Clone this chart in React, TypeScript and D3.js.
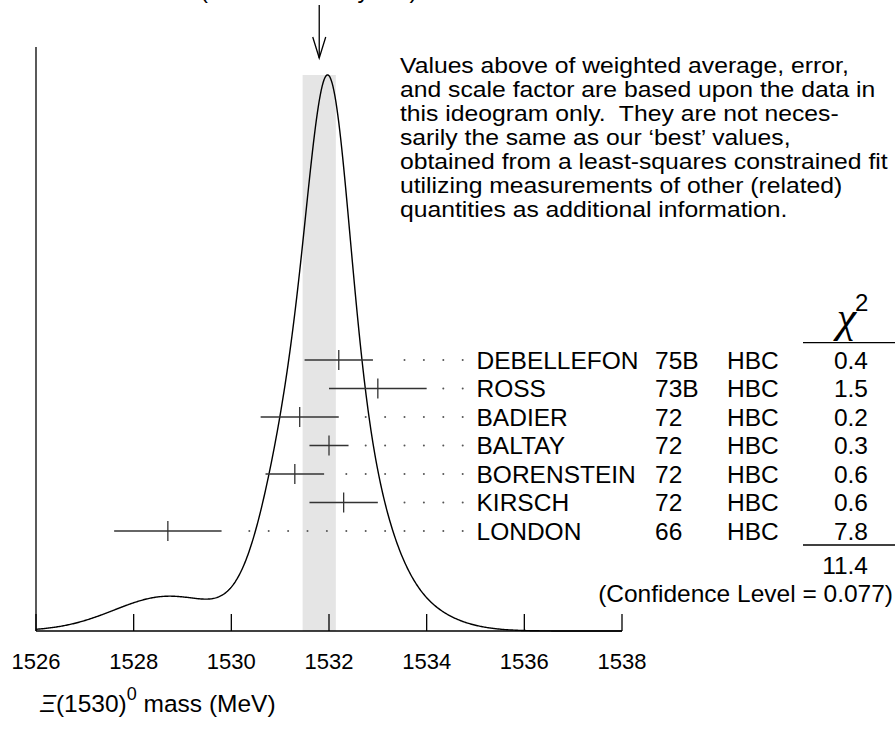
import React from "react";
import * as d3 from "d3";

// ---- data ----
const authors = ["DEBELLEFON", "ROSS", "BADIER", "BALTAY", "BORENSTEIN", "KIRSCH", "LONDON"];
const years = ["75B", "73B", "72", "72", "72", "72", "66"];
const techniques = ["HBC", "HBC", "HBC", "HBC", "HBC", "HBC", "HBC"];
const masses = [1532.2, 1533.0, 1531.4, 1532.0, 1531.3, 1532.3, 1528.7];
const errors = [0.7, 1.0, 0.8, 0.4, 0.6, 0.7, 1.1];
const chi2Values = ["0.4", "1.5", "0.2", "0.3", "0.6", "0.6", "7.8"];
const chi2Total = "11.4";
const confidenceLevel = "0.077";
const weightedAverage = 1531.8;
const weightedErrorText = "1531.80\u00B10.32";
const scaleFactorText = "(Error scaled by 1.3)";
const bandRange = [1531.46, 1532.14];
const tickValues = [1526, 1528, 1530, 1532, 1534, 1536, 1538];
const noteLines = [
  "Values above of weighted average, error,",
  "and scale factor are based upon the data in",
  "this ideogram only.  They are not neces-",
  "sarily the same as our \u2018best\u2019 values,",
  "obtained from a least-squares constrained fit",
  "utilizing measurements of other (related)",
  "quantities as additional information.",
];

const W = 895;
const H = 730;
const FONT = "'Liberation Sans', Arial, Helvetica, sans-serif";

export default function App() {
  const x = d3.scaleLinear().domain([1526, 1538]).range([36, 622]);
  const axisY = 631;

  // ideogram: sum of gaussians, each of area proportional to 1/sigma
  const grid = d3.range(1526, 1538.0001, 0.02);
  const ideo = grid.map((m) => {
    let s = 0;
    masses.forEach((mu, i) => {
      const sg = errors[i];
      s += (1 / (sg * sg)) * Math.exp(-0.5 * ((m - mu) / sg) ** 2);
    });
    return [m, s] as [number, number];
  });
  const fmax = d3.max(ideo, (d) => d[1]) as number;
  const y = d3.scaleLinear().domain([0, fmax]).range([axisY, 75]);
  const line = d3
    .line<[number, number]>()
    .x((d) => x(d[0]))
    .y((d) => y(d[1]));

  const row = d3.scaleLinear().domain([0, authors.length - 1]).range([360, 531]);

  const xa = x(weightedAverage);
  const dotStep = 19.4;
  const dotEnd = 462.7;
  const rowFont = 24.5;

  return (
    <div style={{ position: "absolute", left: 0, top: 0 }}>
      <svg width={W} height={H} style={{ display: "block", background: "#fff" }} fontFamily={FONT}>
        {/* top (cut) text */}
        <text y={-2} fontSize={24}>
          <tspan x={59}>{weightedErrorText}</tspan>
          <tspan x={200}>{scaleFactorText}</tspan>
        </text>

        {/* shaded band */}
        <rect
          x={x(bandRange[0])}
          y={y(fmax)}
          width={x(bandRange[1]) - x(bandRange[0])}
          height={axisY - y(fmax)}
          fill="#e5e5e5"
        />

        {/* arrow */}
        <line x1={xa} x2={xa} y1={5} y2={58} stroke="#000" strokeWidth={1.3} />
        <polyline
          points={`${xa - 6.5},37 ${xa},58 ${xa + 6.5},37`}
          fill="none"
          stroke="#000"
          strokeWidth={1.3}
        />

        {/* axes */}
        <line x1={36} x2={36} y1={47} y2={axisY} stroke="#000" strokeWidth={1.3} />
        <line x1={36} x2={622} y1={axisY} y2={axisY} stroke="#000" strokeWidth={1.3} />
        {tickValues.map((t) => (
          <g key={t}>
            <line x1={x(t)} x2={x(t)} y1={axisY} y2={axisY - 17} stroke="#000" strokeWidth={1.3} />
            <text x={x(t)} y={669} fontSize={22} textAnchor="middle">
              {t}
            </text>
          </g>
        ))}

        {/* ideogram curve */}
        <path d={line(ideo) || ""} fill="none" stroke="#000" strokeWidth={1.4} />

        {/* measurements */}
        {masses.map((m, i) => {
          const yy = row(i);
          const right = x(m + errors[i]);
          const dots: number[] = [];
          for (let dx = dotEnd; dx > right + 13; dx -= dotStep) dots.push(dx);
          return (
            <g key={authors[i]}>
              <line x1={x(m - errors[i])} x2={right} y1={yy} y2={yy} stroke="#333" strokeWidth={1.3} />
              <line x1={x(m)} x2={x(m)} y1={yy - 10} y2={yy + 10} stroke="#333" strokeWidth={1.3} />
              {dots.map((d) => (
                <circle key={d} cx={d} cy={yy} r={1} fill="#555" />
              ))}
              <text x={476.5} y={yy + 8.7} fontSize={rowFont}>
                {authors[i]}
              </text>
              <text x={655} y={yy + 8.7} fontSize={rowFont}>
                {years[i]}
              </text>
              <text x={727} y={yy + 8.7} fontSize={rowFont}>
                {techniques[i]}
              </text>
              <text x={868} y={yy + 8.7} fontSize={rowFont} textAnchor="end">
                {chi2Values[i]}
              </text>
            </g>
          );
        })}

        {/* chi2 header and totals */}
        <text x={856} y={332} fontSize={44} fontStyle="italic" fontFamily="'Liberation Serif', serif" textAnchor="end">
          {"\u03C7"}
        </text>
        <text x={855} y={311} fontSize={24}>2</text>
        <line x1={803} x2={895} y1={342.7} y2={342.7} stroke="#000" strokeWidth={1.3} />
        <line x1={803} x2={895} y1={545} y2={545} stroke="#000" strokeWidth={1.3} />
        <text x={868} y={573.5} fontSize={rowFont} textAnchor="end">
          {chi2Total}
        </text>
        <text x={893} y={602} fontSize={rowFont} textAnchor="end">
          {`(Confidence Level = ${confidenceLevel})`}
        </text>

        {/* note */}
        <g transform="translate(400,0) scale(1.15,1)">
          {noteLines.map((l, i) => (
            <text key={i} x={0} y={73.3 + i * 24} fontSize={21.5} style={{ whiteSpace: "pre" }}>
              {l}
            </text>
          ))}
        </g>

        {/* x axis title */}
        <text x={40} y={712} fontSize={24.5}>
          <tspan fontStyle="italic">{"\u039E"}</tspan>
          <tspan>(1530)</tspan>
          <tspan dy={-12} fontSize={18}>0</tspan>
          <tspan dy={12}> mass (MeV)</tspan>
        </text>
      </svg>
    </div>
  );
}
